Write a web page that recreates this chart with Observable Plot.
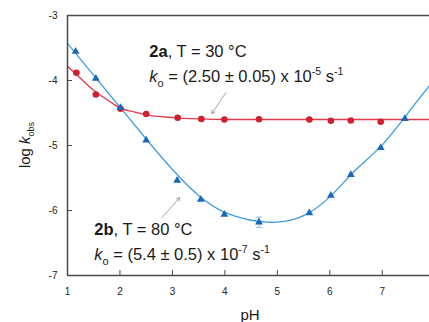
<!DOCTYPE html>
<html><head><meta charset="utf-8">
<script src="https://cdn.jsdelivr.net/npm/d3@7"></script>
<script src="https://cdn.jsdelivr.net/npm/@observablehq/plot@0.6"></script>
<style>
body{margin:0;background:#fff}
#chart{position:relative;width:429px;height:322px;overflow:hidden}
</style>
</head><body><div id="chart"></div>
<script>
// 2a, T = 30 °C  (red circles)
const redPH   = [1.17, 1.54, 2.01, 2.50, 3.10, 3.55, 3.99, 4.65, 5.61, 6.02, 6.40, 6.97];
const redLogK = [-3.88, -4.215, -4.435, -4.515, -4.572, -4.592, -4.60, -4.595, -4.60, -4.62, -4.615, -4.635];
// fitted curve for 2a
const redFitPH   = [1.0, 1.2, 1.5, 1.8, 2.0, 2.3, 2.6, 3.0, 3.5, 4.0, 5.0, 6.0, 7.0, 7.9];
const redFitLogK = [-3.78, -3.93, -4.15, -4.32, -4.42, -4.49, -4.54, -4.57, -4.59, -4.60, -4.60, -4.60, -4.60, -4.60];
// 2b, T = 80 °C  (blue triangles)
const bluePH   = [1.155, 1.54, 2.01, 2.50, 3.09, 3.54, 3.99, 4.65, 5.61, 6.02, 6.40, 6.97, 7.43];
const blueLogK = [-3.554, -3.97, -4.42, -4.92, -5.54, -5.83, -6.06, -6.18, -6.04, -5.77, -5.45, -5.035, -4.59];
const blueErrPH = [4.65];
const blueErrLo = [-6.26];
const blueErrHi = [-6.10];
// fitted curve for 2b
const blueFitPH   = [1.0, 1.5, 2.0, 2.5, 3.0, 3.5, 4.0, 4.5, 4.8, 5.1, 5.5, 6.0, 6.5, 7.0, 7.5, 7.9];
const blueFitLogK = [-3.43, -3.92, -4.41, -4.90, -5.37, -5.77, -6.03, -6.15, -6.18, -6.17, -6.08, -5.79, -5.37, -4.99, -4.49, -4.08];
// axis ticks
const yTicks = [-3, -4, -5, -6, -7];
const yInnerTicks = [-4, -5, -6];
const xTicks = [1, 2, 3, 4, 5, 6, 7];
const xInnerTicks = [2, 3, 4, 5, 6, 7];
// annotation arrows (tail -> head)
const arrowX1 = [4.02, 2.80], arrowY1 = [-4.185, -6.11];
const arrowX2 = [3.75, 3.14], arrowY2 = [-4.51, -5.80];
// annotation text anchors (baseline left)
const annX = [2.57, 2.57, 1.52, 1.52];
const annY = [-3.646, -4.031, -6.385, -6.769];

const red = "#d0202f", redLine = "#e23a4c";
const blue = "#1767bd", blueLine = "#3d9ee0", blueErr = "#8cc3ec";
const axisCol = "#4a4a4a";

const red_ = redPH.map((x,i)=>({x, y: redLogK[i]}));
const redFit = redFitPH.map((x,i)=>({x, y: redFitLogK[i]}));
const blue_ = bluePH.map((x,i)=>({x, y: blueLogK[i]}));
const blueFit = blueFitPH.map((x,i)=>({x, y: blueFitLogK[i]}));
const errs = blueErrPH.map((x,i)=>({x, lo: blueErrLo[i], hi: blueErrHi[i]}));
const arrows = arrowX1.map((x1,i)=>({x1, y1: arrowY1[i], x2: arrowX2[i], y2: arrowY2[i]}));
const capSymbol = {draw(ctx){ctx.moveTo(-3,0);ctx.lineTo(3,0);}};

const plot = Plot.plot({
  width: 429, height: 322,
  marginLeft: 67, marginRight: 0, marginTop: 15, marginBottom: 47,
  style: {fontFamily: "'Liberation Sans', Arial, sans-serif", fontSize: "10px", background: "#fff", overflow: "visible"},
  x: {domain: [1, 7.9]},
  y: {domain: [-7, -3]},
  marks: [
    Plot.line(redFit, {x: "x", y: "y", stroke: redLine, strokeWidth: 1.3, curve: "monotone-x"}),
    Plot.line(blueFit, {x: "x", y: "y", stroke: blueLine, strokeWidth: 1.3, curve: "natural"}),
    Plot.ruleX(errs, {x: "x", y1: "lo", y2: "hi", stroke: blueErr, strokeWidth: 1}),
    Plot.dot(errs, {x: "x", y: "lo", symbol: capSymbol, stroke: blueErr, strokeWidth: 1, r: 3}),
    Plot.dot(errs, {x: "x", y: "hi", symbol: capSymbol, stroke: blueErr, strokeWidth: 1, r: 3}),
    Plot.dot(red_, {x: "x", y: "y", r: 3.3, fill: red, stroke: "none"}),
    Plot.dot(blue_, {x: "x", y: "y", r: 2.9, symbol: "triangle", fill: blue, stroke: "none"}),
    Plot.arrow(arrows, {x1: "x1", y1: "y1", x2: "x2", y2: "y2", stroke: "#9a9a9a", strokeWidth: 0.9, headLength: 6}),
    Plot.ruleY([-3, -7], {stroke: axisCol, strokeWidth: 1.5}),
    Plot.ruleX([1], {stroke: axisCol, strokeWidth: 1.5}),
    Plot.axisY({ticks: yInnerTicks, tickSize: -5, text: null, label: null, stroke: axisCol}),
    Plot.axisY({ticks: yTicks, tickSize: 0, tickPadding: 10, tickFormat: d => String(d), label: null, fill: "#222", fontSize: 10}),
    Plot.axisX({ticks: xInnerTicks, tickSize: -5, text: null, label: null, stroke: axisCol}),
    Plot.axisX({ticks: xTicks, tickSize: 0, tickPadding: 12, tickFormat: d => String(d), label: null, fill: "#222", fontSize: 10})
  ]
});
document.getElementById("chart").appendChild(plot);

const sx = plot.scale("x"), sy = plot.scale("y");
const svg = d3.select(plot);
const ff = "'Liberation Sans', Arial, sans-serif";

function line1(i, id, temp) {
  const t = svg.append("text").attr("x", sx.apply(annX[i])).attr("y", sy.apply(annY[i]))
    .attr("text-anchor", "start").attr("font-family", ff).attr("font-size", 16.5).attr("fill", "#1a1a1a");
  t.append("tspan").attr("font-weight", "bold").text(id);
  t.append("tspan").text(", T = " + temp + " °C");
}
function line2(i, val, exp) {
  const t = svg.append("text").attr("x", sx.apply(annX[i])).attr("y", sy.apply(annY[i]))
    .attr("text-anchor", "start").attr("font-family", ff).attr("font-size", 16.5).attr("fill", "#1a1a1a");
  t.append("tspan").attr("font-style", "italic").text("k");
  t.append("tspan").attr("font-size", 11).attr("dy", 5).text("o");
  t.append("tspan").attr("dy", -5).text(" = (" + val + ") x 10");
  t.append("tspan").attr("font-size", 10.5).attr("dy", -7).text(exp);
  t.append("tspan").attr("dy", 7).text(" s");
  t.append("tspan").attr("font-size", 10.5).attr("dy", -7).text("-1");
}
line1(0, "2a", "30");
line2(1, "2.50 ± 0.05", "-5");
line1(2, "2b", "80");
line2(3, "5.4 ± 0.5", "-7");

// axis titles
const yl = svg.append("text")
  .attr("transform", `translate(30,${(sy.apply(-3) + sy.apply(-7)) / 2}) rotate(-90)`)
  .attr("text-anchor", "middle").attr("font-family", ff).attr("font-size", 15).attr("fill", "#1a1a1a");
yl.append("tspan").text("log ");
yl.append("tspan").attr("font-style", "italic").text("k");
yl.append("tspan").attr("font-size", 9).attr("dy", 4).text("obs");

svg.append("text").attr("x", (sx.apply(1) + sx.apply(7.9)) / 2 + 2).attr("y", 320)
  .attr("text-anchor", "middle").attr("font-family", ff).attr("font-size", 15).attr("fill", "#1a1a1a").text("pH");
</script>
</body></html>
